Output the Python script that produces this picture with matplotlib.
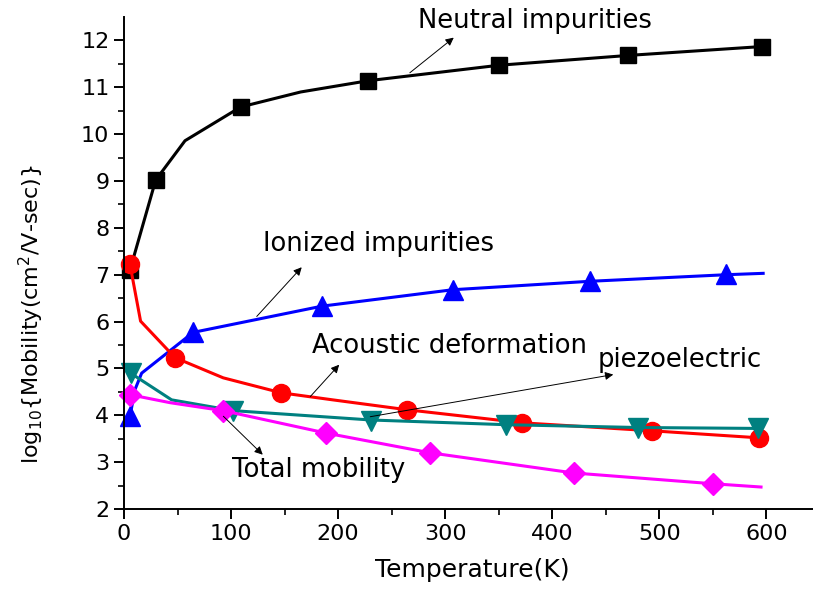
import matplotlib

matplotlib.use("Agg")
import matplotlib.pyplot as plt

plt.rcParams["font.family"] = ["DejaVu Sans"]
plt.rcParams["mathtext.default"] = "regular"

# line data (temperature K, log10 mobility)
neutral_t = [5.6, 29.6, 57, 109, 165, 228, 350, 471, 596]
neutral_v = [7.1, 9.02, 9.86, 10.58, 10.9, 11.14, 11.47, 11.68, 11.87]
neutral_mt = [5.6, 29.6, 109, 228, 350, 471, 596]
neutral_mv = [7.1, 9.02, 10.58, 11.14, 11.47, 11.68, 11.87]

ionized_t = [5.6, 10.3, 16.5, 64.6, 185, 307, 435, 562, 597]
ionized_v = [3.98, 4.55, 4.9, 5.77, 6.33, 6.68, 6.86, 7.0, 7.03]
ionized_mt = [5.6, 64.6, 185, 307, 435, 562]
ionized_mv = [3.98, 5.77, 6.33, 6.68, 6.86, 7.02]

acoustic_t = [5.6, 15.5, 47.7, 92.7, 147, 195, 264, 372, 493, 593]
acoustic_v = [7.22, 6.01, 5.23, 4.8, 4.48, 4.33, 4.12, 3.84, 3.67, 3.52]
acoustic_mt = [5.6, 47.7, 147, 264, 372, 493, 593]
acoustic_mv = [7.22, 5.23, 4.48, 4.12, 3.84, 3.67, 3.52]

piezo_t = [6.2, 44.5, 102, 231, 357, 480, 594]
piezo_v = [4.9, 4.33, 4.1, 3.9, 3.8, 3.74, 3.72]
piezo_mt = [6.2, 102, 231, 357, 480, 592]
piezo_mv = [4.9, 4.1, 3.88, 3.8, 3.73, 3.73]

total_t = [5.6, 43, 92.5, 189, 286, 420, 550, 595]
total_v = [4.44, 4.27, 4.1, 3.62, 3.2, 2.77, 2.54, 2.47]
total_mt = [5.6, 92.5, 189, 286, 420, 550]
total_mv = [4.44, 4.1, 3.62, 3.2, 2.77, 2.54]

# label text, text anchor (left, middle), arrow tail, arrow head
notes = [
    ("Neutral impurities", (275, 12.42), (267, 11.31), (308, 12.06)),
    ("Ionized impurities", (130, 7.65), (124, 6.11), (166, 7.16)),
    ("Acoustic deformation", (176, 5.47), (174, 4.4), (201, 5.08)),
    ("piezoelectric", (442, 5.19), (230, 3.97), (457, 4.87)),
    ("Total mobility", (101, 2.84), (92.8, 3.98), (129.6, 3.16)),
]

fig = plt.figure(figsize=(8.13, 6.01), dpi=100)
ax = fig.add_axes([0.1525, 0.153, 0.856, 0.8187])

series = [
    (neutral_t, neutral_v, neutral_mt, neutral_mv, "black", "s", 12),
    (ionized_t, ionized_v, ionized_mt, ionized_mv, "#0000FF", "^", 14),
    (acoustic_t, acoustic_v, acoustic_mt, acoustic_mv, "#FF0000", "o", 13),
    (piezo_t, piezo_v, piezo_mt, piezo_mv, "#008080", "v", 14),
    (total_t, total_v, total_mt, total_mv, "#FF00FF", "D", 11.5),
]
for lt, lv, mt, mv, color, marker, size in series:
    ax.plot(lt, lv, color=color, linewidth=2.2, clip_on=False)
    ax.plot(mt, mv, linestyle="none", marker=marker, markersize=size,
            color=color, clip_on=False)

for label, pos, tail, head in notes:
    ax.annotate("", xy=head, xytext=tail,
                arrowprops=dict(arrowstyle="-|>", color="black", lw=0.7,
                                mutation_scale=12, shrinkA=0, shrinkB=0))
    ax.text(pos[0], pos[1], label, fontsize=18.6, ha="left", va="center",
            clip_on=False)

ax.set_xlim(0, 650)
ax.set_ylim(2, 12.5)
ax.set_xticks([0, 100, 200, 300, 400, 500, 600])
ax.set_xticks(range(50, 650, 100), minor=True)
ax.set_yticks(range(2, 13))
ax.set_yticks([2.5 + i for i in range(10)], minor=True)
ax.spines["top"].set_visible(False)
ax.spines["right"].set_visible(False)
for side in ("left", "bottom"):
    ax.spines[side].set_linewidth(1.4)
ax.tick_params(which="major", direction="out", length=7, width=1.4,
               labelsize=16)
ax.tick_params(which="minor", direction="out", length=4, width=1.2)
ax.set_xlabel("Temperature(K)", fontsize=18, labelpad=10)
ax.set_ylabel(r"log$_{10}${Mobility(cm$^{2}$/V-sec)}", fontsize=16)
ax.yaxis.set_label_coords(-0.112, 0.396)

fig.savefig("out.png", dpi=100)
